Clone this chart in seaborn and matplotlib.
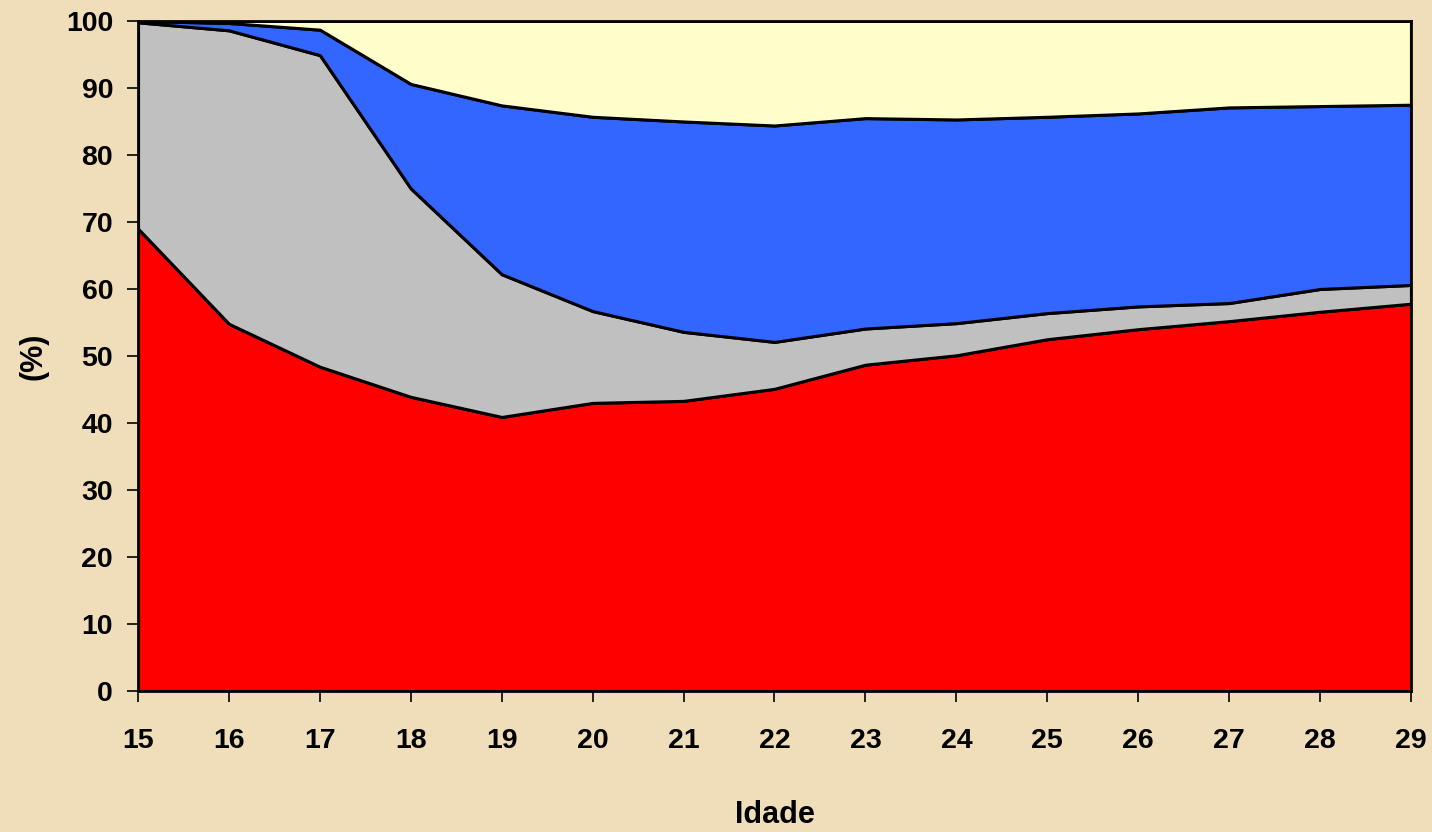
import numpy as np
import matplotlib
matplotlib.use('Agg')
import matplotlib.pyplot as plt
import seaborn as sns

# idade (anos) e participação de cada grupo (%)
idade = [15, 16, 17, 18, 19, 20, 21, 22, 23, 24, 25, 26, 27, 28, 29]
vermelho = [69.0, 54.8, 48.4, 43.9, 40.9, 43.0, 43.3, 45.1, 48.7, 50.1, 52.5, 54.0, 55.2, 56.6, 57.8]
cinza = [30.8, 43.8, 46.5, 31.1, 21.3, 13.7, 10.3, 7.0, 5.4, 4.8, 3.9, 3.4, 2.7, 3.4, 2.8]
azul = [0.2, 1.1, 3.8, 15.6, 25.2, 29.0, 31.4, 32.3, 31.4, 30.4, 29.3, 28.8, 29.2, 27.3, 26.9]
amarelo = [0.0, 0.3, 1.3, 9.4, 12.6, 14.3, 15.0, 15.6, 14.5, 14.7, 14.3, 13.8, 12.9, 12.7, 12.5]

cores = ['#FF0000', '#C0C0C0', '#3366FF', '#FFFFCC']
fundo = '#EFDEB9'

sns.set_theme(style='white')
plt.rcParams['font.family'] = ['Liberation Sans', 'DejaVu Sans']
plt.rcParams['font.weight'] = 'bold'

fig = plt.figure(figsize=(14.32, 8.32), dpi=100, facecolor=fundo)
ax = fig.add_axes([0.0964, 0.1695, 0.8889, 0.8053])
ax.set_facecolor(fundo)

ax.stackplot(idade, vermelho, cinza, azul, amarelo, colors=cores,
             edgecolor='black', linewidth=2.2, zorder=2)

ax.set_xlim(15, 29)
ax.set_ylim(0, 100)
ax.set_xticks(idade)
ax.set_yticks(np.arange(0, 101, 10))

for s in ax.spines.values():
    s.set_color('black')
    s.set_linewidth(2)
    s.set_zorder(3)

ax.tick_params(axis='both', direction='out', colors='black', labelsize=20.5,
               width=1.2, length=8)
ax.tick_params(axis='x', pad=19)
ax.tick_params(axis='y', pad=10)
ax.xaxis.set_ticks_position('bottom')
ax.yaxis.set_ticks_position('left')
for lab in ax.get_xticklabels() + ax.get_yticklabels():
    lab.set_fontweight('bold')

ax.set_xlabel('Idade', fontsize=22, fontweight='bold', color='black')
ax.set_ylabel('(%)', fontsize=22, fontweight='bold', color='black')
ax.xaxis.set_label_coords(0.5, -0.185)
ax.yaxis.set_label_coords(-0.0825, 0.5)
ax.xaxis.label.set_va('center')
ax.yaxis.label.set_va('center')

fig.savefig('out.png', dpi=100, facecolor=fundo)
